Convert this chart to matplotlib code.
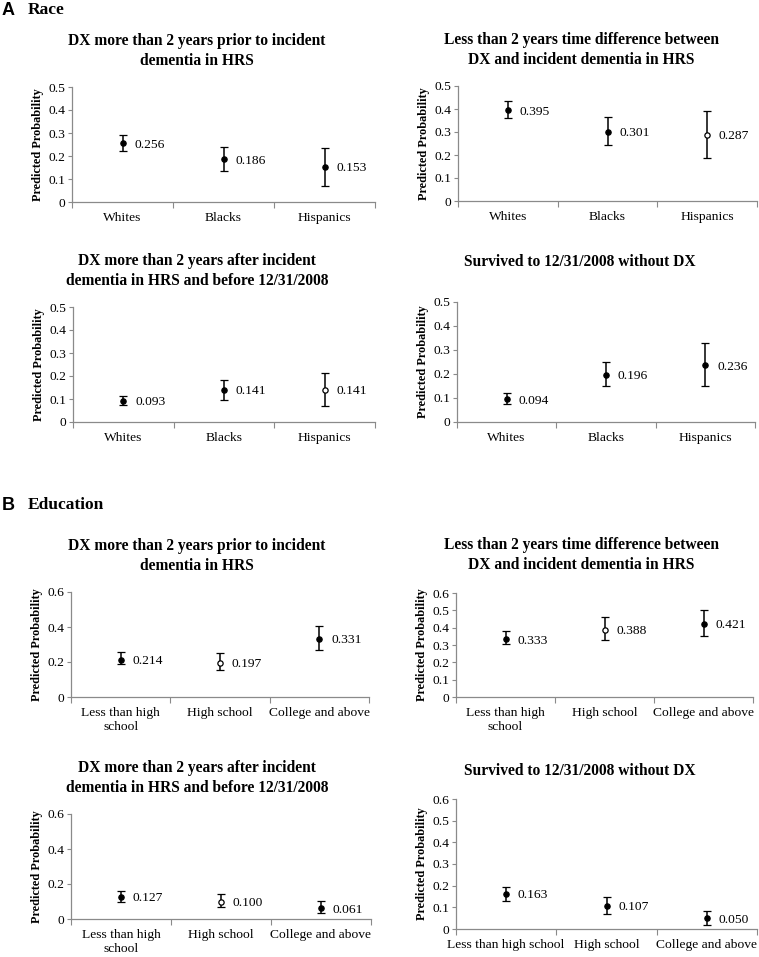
import matplotlib.pyplot as plt
from matplotlib.ticker import FixedLocator, NullFormatter

plt.rcParams["font.family"] = "Liberation Serif"

# categories
race_groups = ["Whites", "Blacks", "Hispanics"]
edu_groups = ["Less than high\nschool", "High school", "College and above"]
edu_groups_long = ["Less than high school", "High school", "College and above"]

titles = [
    "DX more than 2 years prior to incident\ndementia in HRS",
    "Less than 2 years time difference between\nDX and incident dementia in HRS",
    "DX more than 2 years after incident\ndementia in HRS and before 12/31/2008",
    "Survived to 12/31/2008 without DX",
]

# A: race - predicted probability and CI
race_est = [[0.256, 0.186, 0.153], [0.395, 0.301, 0.287],
            [0.093, 0.141, 0.141], [0.094, 0.196, 0.236]]
race_lo = [[0.222, 0.135, 0.070], [0.360, 0.244, 0.185],
           [0.072, 0.095, 0.069], [0.075, 0.150, 0.150]]
race_hi = [[0.290, 0.239, 0.236], [0.436, 0.364, 0.392],
           [0.115, 0.184, 0.215], [0.119, 0.250, 0.330]]
race_open = [[False, False, False], [False, False, True],
             [False, False, True], [False, False, False]]

# B: education
edu_est = [[0.214, 0.197, 0.331], [0.333, 0.388, 0.421],
           [0.127, 0.100, 0.061], [0.163, 0.107, 0.050]]
edu_lo = [[0.188, 0.153, 0.268], [0.304, 0.331, 0.354],
          [0.096, 0.071, 0.033], [0.131, 0.069, 0.017]]
edu_hi = [[0.255, 0.253, 0.408], [0.379, 0.460, 0.500],
          [0.161, 0.145, 0.103], [0.196, 0.147, 0.083]]
edu_open = [[False, True, False], [False, True, False],
            [False, True, False], [False, False, False]]

race_yticks = [0, 0.1, 0.2, 0.3, 0.4, 0.5]
edu_yticks_coarse = [0, 0.2, 0.4, 0.6]
edu_yticks_fine = [0, 0.1, 0.2, 0.3, 0.4, 0.5, 0.6]

W, H = 759, 957
fig = plt.figure(figsize=(W / 100, H / 100), dpi=100)


def px_axes(left, top, right, bottom):
    return fig.add_axes([left / W, 1 - bottom / H, (right - left) / W, (bottom - top) / H])


def draw_panel(ax, groups, est, lo, hi, hollow, yticks):
    x = [1, 2, 3]
    for i in range(3):
        ax.errorbar(x[i], est[i], yerr=[[est[i] - lo[i]], [hi[i] - est[i]]],
                    fmt="o", color="black", ms=3.8,
                    mfc="white" if hollow[i] else "black", mec="black", mew=0.9,
                    elinewidth=1.1, capsize=3, capthick=1.1)
        ax.annotate(f"{est[i]:.3f}", (x[i], est[i]), xytext=(8.5, -1),
                    textcoords="offset points", va="center", ha="left", fontsize=9.7)
    ax.set_xlim(0.5, 3.5)
    ax.set_ylim(yticks[0], yticks[-1])
    ax.xaxis.set_major_locator(FixedLocator([0.5, 1.5, 2.5, 3.5]))
    ax.xaxis.set_major_formatter(NullFormatter())
    ax.xaxis.set_minor_locator(FixedLocator(x))
    ax.set_xticklabels(groups, minor=True, fontsize=9.7, linespacing=1.15)
    ax.tick_params(axis="x", which="major", direction="out", length=4, color="#8a8a8a")
    ax.tick_params(axis="x", which="minor", length=0, pad=7.5)
    ax.set_yticks(yticks)
    ax.set_yticklabels(["0" if v == 0 else f"{v:g}" for v in yticks], fontsize=9.7)
    ax.tick_params(axis="y", direction="out", length=3, color="#8a8a8a", pad=2)
    for s in ["top", "right"]:
        ax.spines[s].set_visible(False)
    for s in ["left", "bottom"]:
        ax.spines[s].set_color("#8a8a8a")
        ax.spines[s].set_linewidth(0.9)
    ax.set_ylabel("Predicted Probability", fontsize=8.8, fontweight="bold", labelpad=3)


# axes boxes in pixels (left, top, right, bottom)
race_boxes = [(72, 87, 375, 202), (458, 86, 757, 201),
              (73, 307, 375, 422), (457, 302, 755, 422)]
edu_boxes = [(71, 592, 369, 697), (456, 593, 753, 697),
             (71, 814, 371, 919), (456, 799, 757, 929)]
title_pos = [(197, 51), (581, 50), (197, 271), (580, 262),
             (197, 556), (581, 555), (197, 778), (580, 771)]

for k in range(4):
    ax = px_axes(*race_boxes[k])
    draw_panel(ax, race_groups, race_est[k], race_lo[k], race_hi[k], race_open[k], race_yticks)

edu_ticks = [edu_yticks_coarse, edu_yticks_fine, edu_yticks_coarse, edu_yticks_fine]
for k in range(4):
    ax = px_axes(*edu_boxes[k])
    labels = edu_groups_long if k == 3 else edu_groups
    draw_panel(ax, labels, edu_est[k], edu_lo[k], edu_hi[k], edu_open[k], edu_ticks[k])

for k, (tx, ty) in enumerate(title_pos):
    fig.text(tx / W, 1 - ty / H, titles[k % 4], ha="center", va="center",
             fontsize=11.2, fontweight="bold", linespacing=1.35)

# panel headers
fig.text(2 / W, 1 - 10.5 / H, "A", fontsize=13, fontweight="bold",
         family="Liberation Sans", va="center", ha="left")
fig.text(28 / W, 1 - 10 / H, "Race", fontsize=12.5, fontweight="bold", va="center", ha="left")
fig.text(2 / W, 1 - 505 / H, "B", fontsize=13, fontweight="bold",
         family="Liberation Sans", va="center", ha="left")
fig.text(28 / W, 1 - 505 / H, "Education", fontsize=12.5, fontweight="bold", va="center", ha="left")

fig.savefig("out.png", dpi=100)
